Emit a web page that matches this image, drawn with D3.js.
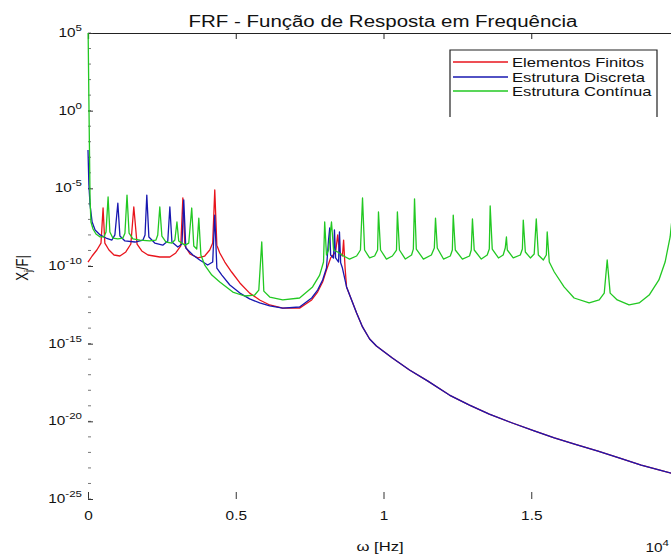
<!DOCTYPE html>
<html>
<head>
<meta charset="utf-8">
<script src="https://cdn.jsdelivr.net/npm/d3@7"></script>
<style>
  body { margin: 0; background: #fff; }
  svg { display: block; }
</style>
</head>
<body>
<svg id="chart" width="671" height="556"></svg>
<script>
// ---- data ---------------------------------------------------------------
const titleText = "FRF - Função de Resposta em Frequência";
const seriesNames = ["Elementos Finitos", "Estrutura Discreta", "Estrutura Contínua"];
const xTicks = [0, 0.5, 1, 1.5];
const xTickLabels = ["0", "0.5", "1", "1.5"];
const yTickExponents = [5, 0, -5, -10, -15, -20, -25];
const xExponent = "4";

// [frequency, |X/F|]
const elementosFinitos = [
  [0.000,1.8e-10],[0.014,4.4e-10],[0.030,1.07e-9],[0.044,3.0e-9],[0.051,5.4e-7],[0.057,3.0e-9],
  [0.071,1.07e-9],[0.088,5.1e-10],[0.108,4.4e-10],[0.128,8.0e-10],[0.145,2.6e-9],[0.155,6.3e-7],
  [0.166,2.6e-9],[0.182,9.3e-10],[0.203,5.1e-10],[0.243,3.8e-10],[0.277,3.8e-10],[0.297,6.9e-10],
  [0.314,1.95e-9],[0.321,2.4e-6],[0.328,1.95e-9],[0.345,5.9e-10],[0.372,3.3e-10],[0.395,4.4e-10],
  [0.412,1.07e-9],[0.422,3.0e-9],[0.429,7.8e-6],[0.436,2.2e-9],[0.446,6.9e-10],[0.463,1.8e-10],
  [0.486,4.1e-11],[0.514,8.1e-12],[0.547,1.8e-12],[0.581,6.5e-13],[0.615,3.1e-13],[0.659,1.95e-13],
  [0.716,1.95e-13],[0.757,6.5e-13],[0.777,2.1e-12],[0.794,9.3e-12],[0.807,5.5e-11],[0.821,3.3e-10],
  [0.838,8.0e-10],[0.845,1.0e-8],[0.851,8.0e-10],[0.861,4.4e-10],[0.865,4.7e-9],[0.870,7.4e-11],
  [0.875,4.5e-12],[0.892,6.5e-13],[0.909,9.4e-14],[0.929,1.2e-14],[0.953,2.0e-15],[0.976,7.1e-16],
  [1.003,2.9e-16],[1.030,1.2e-16],[1.088,2.0e-17],[1.149,4.0e-18],[1.223,4.9e-19],[1.291,1.1e-19],
  [1.358,2.9e-20],[1.436,7.8e-21],[1.510,2.4e-21],[1.578,8.5e-22],[1.655,3.0e-22],[1.726,1.2e-22],
  [1.797,4.4e-23],[1.872,1.5e-23],[1.932,7.4e-24],[1.997,3.5e-24]
];

const estruturaDiscreta = [
  [0.000,2.9e-3],[0.003,1.7e-5],[0.007,8.5e-7],[0.014,6.8e-8],[0.024,2.1e-8],[0.041,1.0e-8],
  [0.061,6.3e-9],[0.081,4.7e-9],[0.091,1.0e-8],[0.101,1.1e-6],[0.108,8.5e-9],[0.125,4.1e-9],
  [0.159,3.5e-9],[0.186,4.7e-9],[0.193,1.0e-8],[0.199,3.7e-6],[0.206,7.4e-9],[0.226,3.0e-9],
  [0.253,2.2e-9],[0.270,4.1e-9],[0.277,6.3e-7],[0.284,3.5e-9],[0.304,1.66e-9],[0.318,2.6e-9],
  [0.324,1.8e-6],[0.331,1.45e-9],[0.355,5.1e-10],[0.378,2.45e-10],[0.405,1.15e-10],[0.422,1.8e-10],
  [0.429,1.9e-7],[0.436,7.4e-11],[0.453,2.6e-11],[0.480,6.0e-12],[0.514,1.8e-12],[0.547,7.6e-13],
  [0.581,4.2e-13],[0.615,2.7e-13],[0.659,1.95e-13],[0.716,2.3e-13],[0.757,8.7e-13],[0.777,2.8e-12],
  [0.794,1.26e-11],[0.807,7.4e-11],[0.814,4.7e-9],[0.818,2.8e-8],[0.821,5.1e-10],[0.831,3.3e-10],
  [0.834,2.1e-8],[0.838,3.3e-10],[0.848,1.8e-10],[0.851,1.55e-8],[0.855,1.6e-10],[0.861,7.4e-11],
  [0.875,4.5e-12],[0.892,6.5e-13],[0.909,9.4e-14],[0.929,1.2e-14],[0.953,2.0e-15],[0.976,7.1e-16],
  [1.003,2.9e-16],[1.030,1.2e-16],[1.088,2.0e-17],[1.149,4.0e-18],[1.223,4.9e-19],[1.291,1.1e-19],
  [1.358,2.9e-20],[1.436,7.8e-21],[1.510,2.4e-21],[1.578,8.5e-22],[1.655,3.0e-22],[1.726,1.2e-22],
  [1.797,4.4e-23],[1.872,1.5e-23],[1.932,7.4e-24],[1.997,3.5e-24]
];

const estruturaContinua = [
  [0.000,6.9e5],[0.003,4.9],[0.007,1.8e-6],[0.010,6.8e-8],[0.017,2.4e-8],[0.027,1.15e-8],
  [0.041,7.4e-9],[0.054,7.4e-9],[0.061,1.55e-8],[0.068,2.8e-6],[0.074,1.55e-8],[0.084,6.3e-9],
  [0.101,5.5e-9],[0.118,6.3e-9],[0.125,1.3e-8],[0.132,3.7e-6],[0.139,1.3e-8],[0.152,5.5e-9],
  [0.176,4.7e-9],[0.209,4.1e-9],[0.230,4.7e-9],[0.236,1.0e-8],[0.243,6.3e-7],[0.250,8.5e-9],
  [0.264,3.5e-9],[0.284,3.0e-9],[0.294,4.7e-9],[0.301,6.8e-8],[0.307,4.1e-9],[0.328,2.2e-9],
  [0.341,3.0e-9],[0.351,5.4e-7],[0.358,1.95e-9],[0.368,1.23e-9],[0.375,1.2e-7],[0.382,5.1e-10],
  [0.395,1.15e-10],[0.419,2.6e-11],[0.446,9.3e-12],[0.490,2.1e-12],[0.530,1.17e-12],[0.564,1.35e-12],
  [0.578,2.8e-12],[0.588,3.5e-9],[0.595,2.4e-12],[0.615,1.0e-12],[0.659,6.5e-13],[0.716,8.7e-13],
  [0.760,4.5e-12],[0.784,2.6e-11],[0.797,1.8e-10],[0.801,6.8e-8],[0.807,5.1e-10],[0.814,1.07e-9],
  [0.824,6.8e-8],[0.831,1.07e-9],[0.845,8.0e-10],[0.865,4.4e-10],[0.885,2.8e-10],[0.909,4.4e-10],
  [0.922,1.07e-9],[0.929,2.4e-6],[0.936,1.07e-9],[0.953,3.3e-10],[0.970,4.4e-10],[0.980,1.07e-9],
  [0.983,3.0e-7],[0.990,1.07e-9],[1.010,2.8e-10],[1.030,4.4e-10],[1.044,1.07e-9],[1.047,3.0e-7],
  [1.054,1.07e-9],[1.074,2.8e-10],[1.095,5.1e-10],[1.101,1.23e-9],[1.105,2.1e-6],[1.111,1.23e-9],
  [1.135,2.8e-10],[1.162,5.1e-10],[1.172,1.45e-9],[1.176,1.2e-7],[1.182,1.45e-9],[1.203,2.8e-10],
  [1.226,4.4e-10],[1.233,1.07e-9],[1.236,1.9e-7],[1.243,1.07e-9],[1.267,2.8e-10],[1.291,4.4e-10],
  [1.297,1.07e-9],[1.301,1.07e-7],[1.307,1.07e-9],[1.331,2.8e-10],[1.351,5.1e-10],[1.358,1.23e-9],
  [1.361,7.3e-7],[1.368,1.23e-9],[1.389,3.3e-10],[1.405,5.1e-10],[1.412,1.45e-9],[1.416,7.4e-9],
  [1.419,1.07e-9],[1.439,3.3e-10],[1.463,5.1e-10],[1.470,1.23e-9],[1.473,9.1e-8],[1.480,8.0e-10],
  [1.497,3.3e-10],[1.510,5.9e-10],[1.517,1.07e-7],[1.524,5.1e-10],[1.541,2.45e-10],[1.551,5.1e-10],
  [1.554,1.55e-8],[1.561,1.8e-10],[1.578,4.1e-11],[1.611,4.5e-12],[1.645,8.7e-13],[1.696,4.2e-13],
  [1.730,6.5e-13],[1.747,1.8e-12],[1.757,2.45e-10],[1.767,1.8e-12],[1.791,6.5e-13],[1.831,3.1e-13],
  [1.865,4.2e-13],[1.899,1.35e-12],[1.932,1.26e-11],[1.953,1.8e-10],[1.970,7.4e-9],[1.983,1.8e-6],
  [1.997,1.0e-9]
];

const seriesColors = ["#e8141c", "#1818b0", "#22c822"];
const seriesData = [elementosFinitos, estruturaDiscreta, estruturaContinua];

// ---- layout -------------------------------------------------------------
const FONT = "'Liberation Sans', Arial, Helvetica, sans-serif";
const SX = 1.28; // horizontal glyph scaling used for all labels
const plot = { left: 88, right: 679, top: 33, bottom: 499 };

const svg = d3.select("#chart");
const x = d3.scaleLinear().domain([0, 2]).range([plot.left, plot.right]);
const y = d3.scaleLog().domain([1e-25, 1e5]).range([plot.bottom, plot.top]);

svg.append("rect").attr("width", 671).attr("height", 556).attr("fill", "#fff");

svg.append("defs").append("clipPath").attr("id", "plotClip")
  .append("rect")
  .attr("x", plot.left - 2).attr("y", plot.top)
  .attr("width", plot.right - plot.left + 4).attr("height", plot.bottom - plot.top);

function label(parent, px, py, txt, size, anchor, extra) {
  const t = parent.append("text")
    .attr("transform", `translate(${px},${py}) ${extra || ""} scale(${SX},1)`)
    .attr("font-family", FONT).attr("font-size", size)
    .attr("text-anchor", anchor).attr("fill", "#111");
  if (txt !== null) t.text(txt);
  return t;
}

// ---- axes ---------------------------------------------------------------
// top border with inward ticks
const gTop = svg.append("g").attr("transform", `translate(0,${plot.top})`)
  .call(d3.axisTop(x).tickValues(xTicks).tickSize(-6).tickFormat(""));
gTop.select(".domain").attr("stroke", "#222").attr("stroke-width", 1.2);
gTop.selectAll(".tick line").attr("stroke", "#222");

// bottom ticks and labels
const gBottom = svg.append("g").attr("transform", `translate(0,${plot.bottom})`)
  .call(d3.axisBottom(x).tickValues(xTicks).tickSize(-7).tickPadding(12)
    .tickFormat((d, i) => xTickLabels[i]));
gBottom.select(".domain").remove();
gBottom.selectAll(".tick line").attr("stroke", "#333");
gBottom.selectAll(".tick text")
  .attr("font-family", FONT).attr("font-size", 12).attr("fill", "#111")
  .attr("transform", `scale(${SX},1)`);

// left axis: decade minor ticks + major ticks every 5 decades
const decades = d3.range(-25, 6);
svg.append("g").selectAll("line").data(decades).join("line")
  .attr("x1", plot.left).attr("x2", plot.left + 3)
  .attr("y1", d => y(Math.pow(10, d))).attr("y2", d => y(Math.pow(10, d)))
  .attr("stroke", "#777").attr("stroke-width", 1);

const gLeft = svg.append("g").attr("transform", `translate(${plot.left},0)`)
  .call(d3.axisLeft(y).tickValues(yTickExponents.map(e => Math.pow(10, e)))
    .tickSize(-5).tickFormat(""));
gLeft.select(".domain").remove();
gLeft.selectAll(".tick line").attr("stroke", "#333");

yTickExponents.forEach(e => {
  const t = label(svg, 82, y(Math.pow(10, e)) + 4, null, 12, "end");
  t.append("tspan").text("10");
  t.append("tspan").attr("dy", -6).attr("font-size", 9).text(String(e));
});

// axis exponent marker at the right end of the frequency axis
{
  const t = label(svg, 669, 552, null, 12, "end");
  t.append("tspan").text("10");
  t.append("tspan").attr("dy", -6).attr("font-size", 9).text(xExponent);
}

// ---- series -------------------------------------------------------------
const line = d3.line().x(d => x(d[0])).y(d => y(d[1]));
const gLines = svg.append("g").attr("clip-path", "url(#plotClip)");
seriesData.forEach((data, i) => {
  gLines.append("path").datum(data)
    .attr("d", line)
    .attr("fill", "none")
    .attr("stroke", seriesColors[i])
    .attr("stroke-width", 1.3)
    .attr("stroke-linejoin", "round");
});

// ---- title & axis labels --------------------------------------------------
label(svg, 383, 27, titleText, 16, "middle");

{
  const t = label(svg, 380, 551, null, 13, "middle");
  t.text("ω [Hz]");
}

{
  const t = svg.append("text")
    .attr("transform", `translate(28,268) scale(${SX},1) rotate(-90)`)
    .attr("font-family", FONT).attr("font-size", 13)
    .attr("text-anchor", "middle").attr("fill", "#111");
  t.append("tspan").text("X");
  t.append("tspan").attr("dy", 3).attr("font-size", 9).text("j");
  t.append("tspan").attr("dy", -3).text("/F|");
}

// ---- legend ---------------------------------------------------------------
const legend = { left: 450, right: 657, top: 50, bottom: 117, rows: [62, 77, 91] };
svg.append("path")
  .attr("d", `M${legend.left},${legend.bottom}V${legend.top}H${legend.right}V${legend.bottom}`)
  .attr("fill", "none").attr("stroke", "#222").attr("stroke-width", 1.2);

seriesNames.forEach((name, i) => {
  const ry = legend.rows[i];
  svg.append("line")
    .attr("x1", 453).attr("x2", 508).attr("y1", ry).attr("y2", ry)
    .attr("stroke", seriesColors[i]).attr("stroke-width", 1.3);
  label(svg, 512, ry + 4.5, name, 13, "start");
});
</script>
</body>
</html>
